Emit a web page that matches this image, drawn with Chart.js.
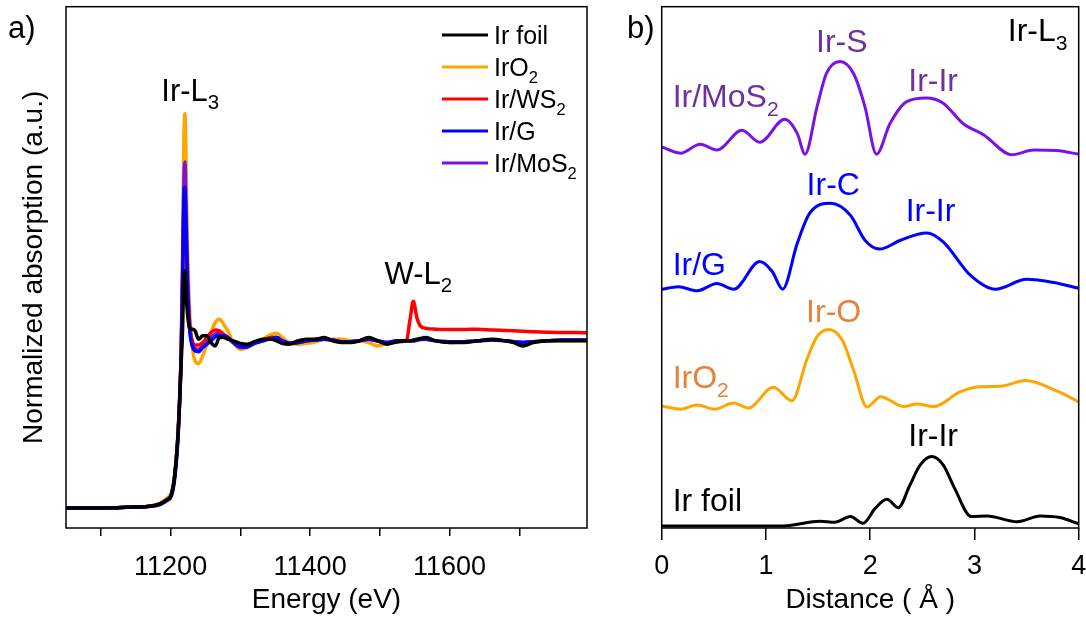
<!DOCTYPE html>
<html>
<head>
<meta charset="utf-8">
<script src="https://cdn.jsdelivr.net/npm/chart.js@4"></script>
<style>
  body { margin: 0; background: #fff; }
  #wrap { position: relative; width: 1086px; height: 617px; overflow: hidden; }
  canvas { position: absolute; top: 0; }
  #xanes { left: 0; }
  #ft { left: 600px; }
</style>
</head>
<body>
<div id="wrap">
  <canvas id="xanes" width="600" height="617"></canvas>
  <canvas id="ft" width="486" height="617"></canvas>
</div>
<script>
const FONT = '"Liberation Sans", Arial, sans-serif';

// ---- panel a: XANES (energy in eV, normalized absorption) ----
const energy = [11050, 11100, 11150, 11170, 11185, 11195, 11201, 11206, 11211, 11215,
  11217, 11219, 11220.5, 11222, 11224, 11227, 11231, 11235, 11240, 11246,
  11252, 11258, 11264, 11270, 11276, 11282, 11290, 11300, 11310, 11320,
  11332, 11345, 11352, 11360, 11370, 11382, 11395, 11408, 11420, 11432,
  11445, 11458, 11470, 11484, 11497, 11510, 11525, 11538, 11543, 11548,
  11553, 11558, 11566, 11580, 11600, 11620, 11640, 11662, 11680, 11692,
  11705, 11720, 11740, 11760, 11780, 11797];

const irFoilA = [0, 0, 0.005, 0.01, 0.025, 0.05, 0.08, 0.2, 0.47, 0.86,
  1.05, 1.38, 1.42, 1.3, 1.17, 1.08, 1.07, 1.06, 1.01, 1.03,
  1.03, 0.99, 0.97, 1.02, 1.02, 1.01, 1.0, 0.985, 0.98, 0.995,
  1.01, 1.01, 1.0, 0.985, 0.98, 1.0, 1.01, 1.01, 1.02, 1.0,
  0.99, 0.99, 1.0, 1.02, 1.0, 0.98, 0.995, 1.0, 1.0, 1.005,
  1.01, 1.015, 1.02, 1.0, 0.99, 0.99, 1.0, 1.01, 1.0, 0.99,
  0.97, 0.99, 1.0, 1.0, 1.0, 1.0];

const irO2A = [0, 0, 0.005, 0.01, 0.03, 0.06, 0.09, 0.2, 0.48, 0.95,
  1.5, 2.2, 2.36, 2.1, 1.6, 1.2, 0.97, 0.88, 0.865, 0.91,
  0.98, 1.05, 1.11, 1.13, 1.1, 1.06, 0.99, 0.95, 0.96, 0.985,
  1.01, 1.04, 1.045, 1.02, 0.99, 0.98, 0.985, 0.995, 1.01, 1.01,
  1.01, 1.0, 1.0, 0.99, 0.97, 0.985, 1.0, 1.0, 1.0, 1.0,
  1.0, 1.005, 1.01, 1.0, 0.99, 0.995, 1.0, 1.005, 1.0, 0.99,
  0.985, 0.995, 1.0, 1.0, 1.0, 1.0];

const irWS2A = [0, 0, 0.005, 0.01, 0.025, 0.05, 0.08, 0.2, 0.47, 0.9,
  1.3, 1.8, 1.85, 1.65, 1.35, 1.1, 1.0, 0.975, 0.975, 0.99,
  1.02, 1.05, 1.065, 1.06, 1.04, 1.02, 0.99, 0.965, 0.97, 0.99,
  1.005, 1.02, 1.02, 1.0, 0.985, 0.99, 1.0, 1.01, 1.015, 1.005,
  0.995, 0.995, 1.0, 1.015, 1.0, 0.985, 0.995, 1.0, 1.12, 1.237,
  1.14, 1.09, 1.075, 1.07, 1.068, 1.068, 1.07, 1.065, 1.062, 1.06,
  1.058, 1.055, 1.052, 1.05, 1.05, 1.048];

const irGA = [0, 0, 0.005, 0.01, 0.02, 0.045, 0.07, 0.18, 0.45, 0.88,
  1.3, 1.85, 1.92, 1.7, 1.35, 1.08, 0.97, 0.94, 0.935, 0.96,
  0.98, 1.0, 1.025, 1.03, 1.03, 1.02, 0.99, 0.965, 0.965, 0.985,
  1.0, 1.015, 1.02, 1.0, 0.985, 0.99, 1.0, 1.005, 1.01, 1.005,
  0.995, 0.995, 1.0, 1.01, 1.0, 0.99, 1.0, 1.0, 1.0, 1.0,
  1.005, 1.01, 1.01, 1.0, 0.995, 0.995, 1.0, 1.005, 1.0, 0.995,
  0.99, 0.995, 1.0, 1.005, 1.005, 1.005];

const irMoS2A = [0, 0, 0.005, 0.01, 0.025, 0.05, 0.08, 0.2, 0.47, 0.9,
  1.4, 1.95, 2.07, 1.8, 1.45, 1.12, 0.99, 0.955, 0.95, 0.97,
  0.99, 1.02, 1.04, 1.045, 1.035, 1.02, 0.99, 0.96, 0.965, 0.985,
  1.0, 1.02, 1.02, 1.0, 0.985, 0.99, 1.0, 1.005, 1.01, 1.005,
  0.995, 0.995, 1.0, 1.01, 1.0, 0.99, 1.0, 1.0, 1.0, 1.0,
  1.005, 1.01, 1.01, 1.0, 0.995, 0.995, 1.0, 1.005, 1.0, 0.995,
  0.99, 0.995, 1.0, 1.005, 1.005, 1.005];

const energyTicks = [11100, 11200, 11300, 11400, 11500, 11600, 11700];
const energyLabels = [11200, 11400, 11600];

// ---- panel b: FT-EXAFS (distance in angstrom, offset magnitude) ----
const rMoS2 = [0, 0.18, 0.37, 0.53, 0.77, 0.94, 1.18, 1.30, 1.375, 1.49, 1.58, 1.71, 1.84,
  1.95, 2.06, 2.19, 2.35, 2.54, 2.70, 2.89, 3.09, 3.36, 3.57, 3.79, 4.0];
const ftMoS2 = [7.31, 7.19, 7.36, 7.25, 7.63, 7.40, 7.84, 7.57, 7.17, 8.08, 8.72, 8.95, 8.72,
  8.08, 7.17, 7.76, 8.18, 8.25, 8.15, 7.76, 7.54, 7.16, 7.25, 7.24, 7.17];

const rG = [0, 0.16, 0.34, 0.53, 0.69, 0.94, 1.06, 1.16, 1.30, 1.42, 1.62, 1.81, 1.95,
  2.09, 2.29, 2.54, 2.70, 2.96, 3.20, 3.50, 3.76, 4.0];
const ftG = [4.58, 4.63, 4.55, 4.69, 4.58, 5.11, 4.92, 4.58, 5.46, 6.04, 6.23, 6.00, 5.52,
  5.35, 5.52, 5.66, 5.49, 4.85, 4.58, 4.77, 4.71, 4.60];

const rO2 = [0, 0.18, 0.34, 0.51, 0.69, 0.83, 1.07, 1.25, 1.39, 1.49, 1.60, 1.73, 1.84,
  1.97, 2.10, 2.32, 2.45, 2.61, 2.86, 3.05, 3.25, 3.49, 3.79, 4.0];
const ftO2 = [2.34, 2.28, 2.36, 2.28, 2.40, 2.30, 2.70, 2.44, 3.22, 3.67, 3.81, 3.61, 3.03,
  2.32, 2.52, 2.33, 2.38, 2.33, 2.61, 2.71, 2.72, 2.83, 2.63, 2.42];

const rFoil = [0, 0.88, 1.17, 1.52, 1.66, 1.81, 1.93, 2.05, 2.16, 2.27, 2.38, 2.48, 2.59,
  2.70, 2.81, 2.97, 3.12, 3.41, 3.63, 3.82, 4.0];
const ftFoil = [0.04, 0.04, 0.04, 0.13, 0.11, 0.22, 0.09, 0.38, 0.55, 0.39, 0.82, 1.21, 1.37,
  1.21, 0.76, 0.22, 0.23, 0.12, 0.23, 0.20, 0.08];

const distTicks = [0, 1, 2, 3, 4];

// colours
const C = {
  foil: "#000000",
  o2: "#FFA500",
  o2Text: "#E8823A",
  ws2: "#FF0000",
  g: "#0000FF",
  mos2: "#7A12E6",
  mos2Text: "#7030A0"
};

const legendItems = [
  { parts: [["Ir foil"]], color: C.foil },
  { parts: [["IrO"], ["2", 1]], color: C.o2 },
  { parts: [["Ir/WS"], ["2", 1]], color: C.ws2 },
  { parts: [["Ir/G"]], color: C.g },
  { parts: [["Ir/MoS"], ["2", 1]], color: C.mos2 }
];

// labels anchored in data coordinates (left edge, baseline)
const notesA = [
  { x: 11186.7, y: 2.435, parts: [["Ir-L"], ["3", 1]], color: "#000" },
  { x: 11506.7, y: 1.343, parts: [["W-L"], ["2", 1]], color: "#000" }
];
const notesB = [
  { x: 3.32, y: 9.34, parts: [["Ir-L"], ["3", 1]], color: "#000" },
  { x: 1.48, y: 9.13, parts: [["Ir-S"]], color: C.mos2Text },
  { x: 0.105, y: 8.07, parts: [["Ir/MoS"], ["2", 1]], color: C.mos2Text },
  { x: 2.365, y: 8.39, parts: [["Ir-Ir"]], color: C.mos2Text },
  { x: 1.39, y: 6.39, parts: [["Ir-C"]], color: C.g },
  { x: 2.34, y: 5.88, parts: [["Ir-Ir"]], color: C.g },
  { x: 0.105, y: 4.85, parts: [["Ir/G"]], color: C.g },
  { x: 1.385, y: 3.96, parts: [["Ir-O"]], color: C.o2Text },
  { x: 0.105, y: 2.68, parts: [["IrO"], ["2", 1]], color: C.o2Text },
  { x: 2.365, y: 1.58, parts: [["Ir-Ir"]], color: "#000" },
  { x: 0.105, y: 0.33, parts: [["Ir foil"]], color: "#000" }
];

// text with subscripts
function richText(ctx, x, y, parts, size, color) {
  ctx.save();
  ctx.fillStyle = color;
  ctx.textAlign = "left";
  ctx.textBaseline = "alphabetic";
  parts.forEach(([t, sub]) => {
    const s = sub ? size * 0.66 : size;
    ctx.font = `${s}px ${FONT}`;
    ctx.fillText(t, x, sub ? y + size * 0.27 : y);
    x += ctx.measureText(t).width;
  });
  ctx.restore();
}

function pts(xs, ys) {
  return xs.map((x, i) => ({ x, y: ys[i] }));
}

function line(data, color, width) {
  return { data, borderColor: color, borderWidth: width || 3, pointRadius: 0, fill: false };
}

// keep the plot box where it is, the edge labels may overhang
function fixX(h) {
  return s => { s.height = h; s.paddingLeft = 0; s.paddingRight = 0; };
}

// frame + panel letter + notes
function decor(letter, notes, noteSize, legend) {
  return {
    id: "decor",
    afterDraw(chart) {
      const { ctx, chartArea: a, scales } = chart;
      ctx.save();
      ctx.strokeStyle = "#000";
      ctx.lineWidth = 1.5;
      ctx.strokeRect(a.left, a.top, a.right - a.left, a.bottom - a.top);
      ctx.restore();

      richText(ctx, letter.x, letter.y, [[letter.text]], 31, "#000");

      notes.forEach(n => {
        richText(ctx, scales.x.getPixelForValue(n.x), scales.y.getPixelForValue(n.y), n.parts, noteSize, n.color);
      });

      if (legend) {
        legend.forEach((it, i) => {
          const y = 35 + i * 32;
          ctx.save();
          ctx.strokeStyle = it.color;
          ctx.lineWidth = 3;
          ctx.beginPath();
          ctx.moveTo(442, y);
          ctx.lineTo(488, y);
          ctx.stroke();
          ctx.restore();
          richText(ctx, 494, y + 9, it.parts, 25, "#000");
        });
      }
    }
  };
}

// PANEL A
new Chart(document.getElementById("xanes"), {
  type: "line",
  data: {
    datasets: [
      line(pts(energy, irFoilA), C.foil, 3.5),
      line(pts(energy, irGA), C.g, 3.5),
      line(pts(energy, irWS2A), C.ws2, 3.5),
      line(pts(energy, irMoS2A), C.mos2, 3.5),
      line(pts(energy, irO2A), C.o2, 3.5)
    ]
  },
  options: {
    responsive: false,
    animation: false,
    devicePixelRatio: 1,
    elements: { line: { cubicInterpolationMode: "monotone" } },
    layout: { padding: { left: 0, right: 13, top: 6.7, bottom: 0 } },
    plugins: { legend: { display: false }, tooltip: { enabled: false } },
    scales: {
      x: {
        type: "linear",
        min: 11050,
        max: 11797,
        afterBuildTicks: s => { s.ticks = energyTicks.map(v => ({ value: v })); },
        afterFit: fixX(89),
        ticks: {
          autoSkip: false,
          maxRotation: 0,
          padding: 15,
          color: "#000",
          font: { family: FONT, size: 27 },
          callback: v => energyLabels.includes(v) ? String(v) : ""
        },
        grid: { drawOnChartArea: false, tickLength: 8, color: "#000", lineWidth: 1.5 },
        border: { display: false },
        title: {
          display: true,
          text: "Energy (eV)",
          color: "#000",
          font: { family: FONT, size: 28 },
          padding: { top: 0, bottom: 0 }
        }
      },
      y: {
        min: -0.12,
        max: 3.0,
        afterFit: s => { s.width = 66; },
        ticks: { display: false },
        grid: { display: false },
        border: { display: false },
        title: {
          display: true,
          text: "Normalized absorption (a.u.)",
          color: "#000",
          font: { family: FONT, size: 28 },
          padding: { top: 17, bottom: 0 }
        }
      }
    }
  },
  plugins: [decor({ text: "a)", x: 8, y: 38 }, notesA, 31, legendItems)]
});

// PANEL B
new Chart(document.getElementById("ft"), {
  type: "line",
  data: {
    datasets: [
      line(pts(rFoil, ftFoil), C.foil),
      line(pts(rG, ftG), C.g),
      line(pts(rO2, ftO2), C.o2),
      line(pts(rMoS2, ftMoS2), C.mos2)
    ]
  },
  options: {
    responsive: false,
    animation: false,
    devicePixelRatio: 1,
    elements: { line: { cubicInterpolationMode: "monotone" } },
    layout: { padding: { left: 61.7, right: 7.3, top: 6.7, bottom: 0 } },
    plugins: { legend: { display: false }, tooltip: { enabled: false } },
    scales: {
      x: {
        type: "linear",
        min: 0,
        max: 4,
        afterBuildTicks: s => { s.ticks = distTicks.map(v => ({ value: v })); },
        afterFit: fixX(89),
        ticks: {
          autoSkip: false,
          maxRotation: 0,
          padding: 10,
          color: "#000",
          font: { family: FONT, size: 27 }
        },
        grid: { drawOnChartArea: false, tickLength: 12, color: "#000", lineWidth: 1.5 },
        border: { display: false },
        title: {
          display: true,
          text: "Distance ( Å )",
          color: "#000",
          font: { family: FONT, size: 28 },
          padding: { top: 0, bottom: 0 }
        }
      },
      y: { display: false, min: 0, max: 10 }
    }
  },
  plugins: [decor({ text: "b)", x: 27, y: 38 }, notesB, 32, null)]
});
</script>
</body>
</html>
